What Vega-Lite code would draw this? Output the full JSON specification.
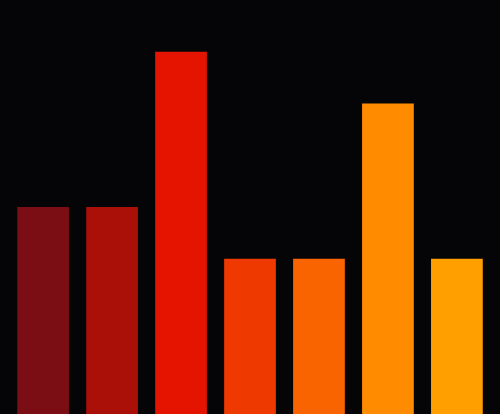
{
  "$schema": "https://vega.github.io/schema/vega-lite/v6.json",
  "autosize": {"type": "fit", "contains": "padding"},
  "width": 500,
  "height": 414,
  "padding": 0,
  "background": "#050407",
  "config": {"view": {"stroke": null}},
  "data": {
    "values": [
      {"category": "A", "value": 4},
      {"category": "B", "value": 4},
      {"category": "C", "value": 7},
      {"category": "D", "value": 3},
      {"category": "E", "value": 3},
      {"category": "F", "value": 6},
      {"category": "G", "value": 3}
    ]
  },
  "mark": {"type": "bar"},
  "encoding": {
    "x": {
      "field": "category",
      "type": "nominal",
      "axis": null,
      "scale": {"paddingInner": 0.25, "paddingOuter": 0.25}
    },
    "y": {
      "field": "value",
      "type": "quantitative",
      "axis": null,
      "scale": {"domain": [0, 8], "nice": false}
    },
    "color": {
      "field": "category",
      "type": "nominal",
      "legend": null,
      "scale": {
        "range": ["#7a0e14", "#aa1008", "#e41400", "#ee3a00", "#f96400", "#ff8c00", "#ffa000"]
      }
    }
  }
}
